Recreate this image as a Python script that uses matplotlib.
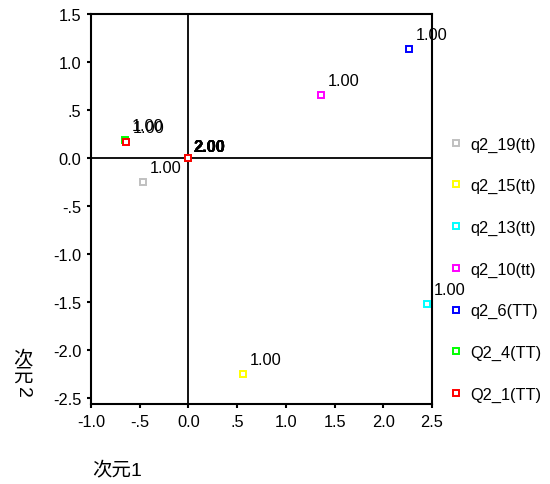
import matplotlib.pyplot as plt

plt.rcParams['font.family'] = ['Liberation Sans', 'Noto Sans CJK SC', 'DejaVu Sans']

# category points (value 1.00) per variable, all value 2.00 points sit at origin
names = ["q2_19(tt)", "q2_15(tt)", "q2_13(tt)", "q2_10(tt)", "q2_6(TT)", "Q2_4(TT)", "Q2_1(TT)"]
colors = ["#c0c0c0", "#ffff00", "#00ffff", "#ff00ff", "#0000ff", "#00ff00", "#ff0000"]
dim1 = [-0.47, 0.56, 2.45, 1.36, 2.26, -0.655, -0.64]
dim2 = [-0.25, -2.25, -1.52, 0.66, 1.14, 0.185, 0.165]
labels_1 = ["1.00"] * 7
dim1_2 = [0.0] * 7
dim2_2 = [0.0] * 7
labels_2 = ["2.00"] * 7

xticks = [-1.0, -0.5, 0.0, 0.5, 1.0, 1.5, 2.0, 2.5]
xticklabels = ["-1.0", "-.5", "0.0", ".5", "1.0", "1.5", "2.0", "2.5"]
yticks = [1.5, 1.0, 0.5, 0.0, -0.5, -1.0, -1.5, -2.0, -2.5]
yticklabels = ["1.5", "1.0", ".5", "0.0", "-.5", "-1.0", "-1.5", "-2.0", "-2.5"]

fs = 11.8

fig = plt.figure(figsize=(5.5, 4.85), dpi=100)
ax = fig.add_axes([0.1655, 0.165, 0.62, 0.804])

ax.axhline(0, color="black", lw=1.3, zorder=1)
ax.axvline(0, color="black", lw=1.3, zorder=1)

for i in range(len(names)):
    ax.plot([dim1[i], dim1_2[i]], [dim2[i], dim2_2[i]], ls="none", marker="s",
            markersize=5, markerfacecolor="white", markeredgecolor=colors[i],
            markeredgewidth=1.4, label=names[i], zorder=3)
    ax.annotate(labels_1[i], (dim1[i], dim2[i]), xytext=(5, 5),
                textcoords="offset points", fontsize=fs, ha="left", va="bottom")
    ax.annotate(labels_2[i], (dim1_2[i], dim2_2[i]), xytext=(3.5, 3),
                textcoords="offset points", fontsize=fs, ha="left", va="bottom",
                fontweight="bold")

ax.set_xlim(-1.0, 2.5)
ax.set_ylim(-2.56, 1.5)
ax.set_xticks(xticks)
ax.set_xticklabels(xticklabels, fontsize=fs)
ax.set_yticks(yticks)
ax.set_yticklabels(yticklabels, fontsize=fs)
ax.tick_params(length=3, width=1.5, pad=4)
for s in ax.spines.values():
    s.set_linewidth(1.5)

fig.text(0.167, 0.012, "次元1", fontsize=14, ha="left", va="bottom")
# vertical label: CJK upright, digit turned
fig.text(0.041, 1 - 359 / 485, "次", fontsize=14, ha="center", va="center")
fig.text(0.041, 1 - 377 / 485, "元", fontsize=14, ha="center", va="center")
fig.text(0.041, 1 - 392 / 485, "2", fontsize=14, rotation=-90, ha="center", va="center")

handles, labs = ax.get_legend_handles_labels()
leg = fig.legend(handles, labs, loc="center left", bbox_to_anchor=(0.802, 0.443),
                 frameon=False, fontsize=fs, labelspacing=1.62, handlelength=0.8,
                 handletextpad=0.5, borderpad=0, numpoints=1, markerscale=0.8)

fig.savefig("out.png", dpi=100)
